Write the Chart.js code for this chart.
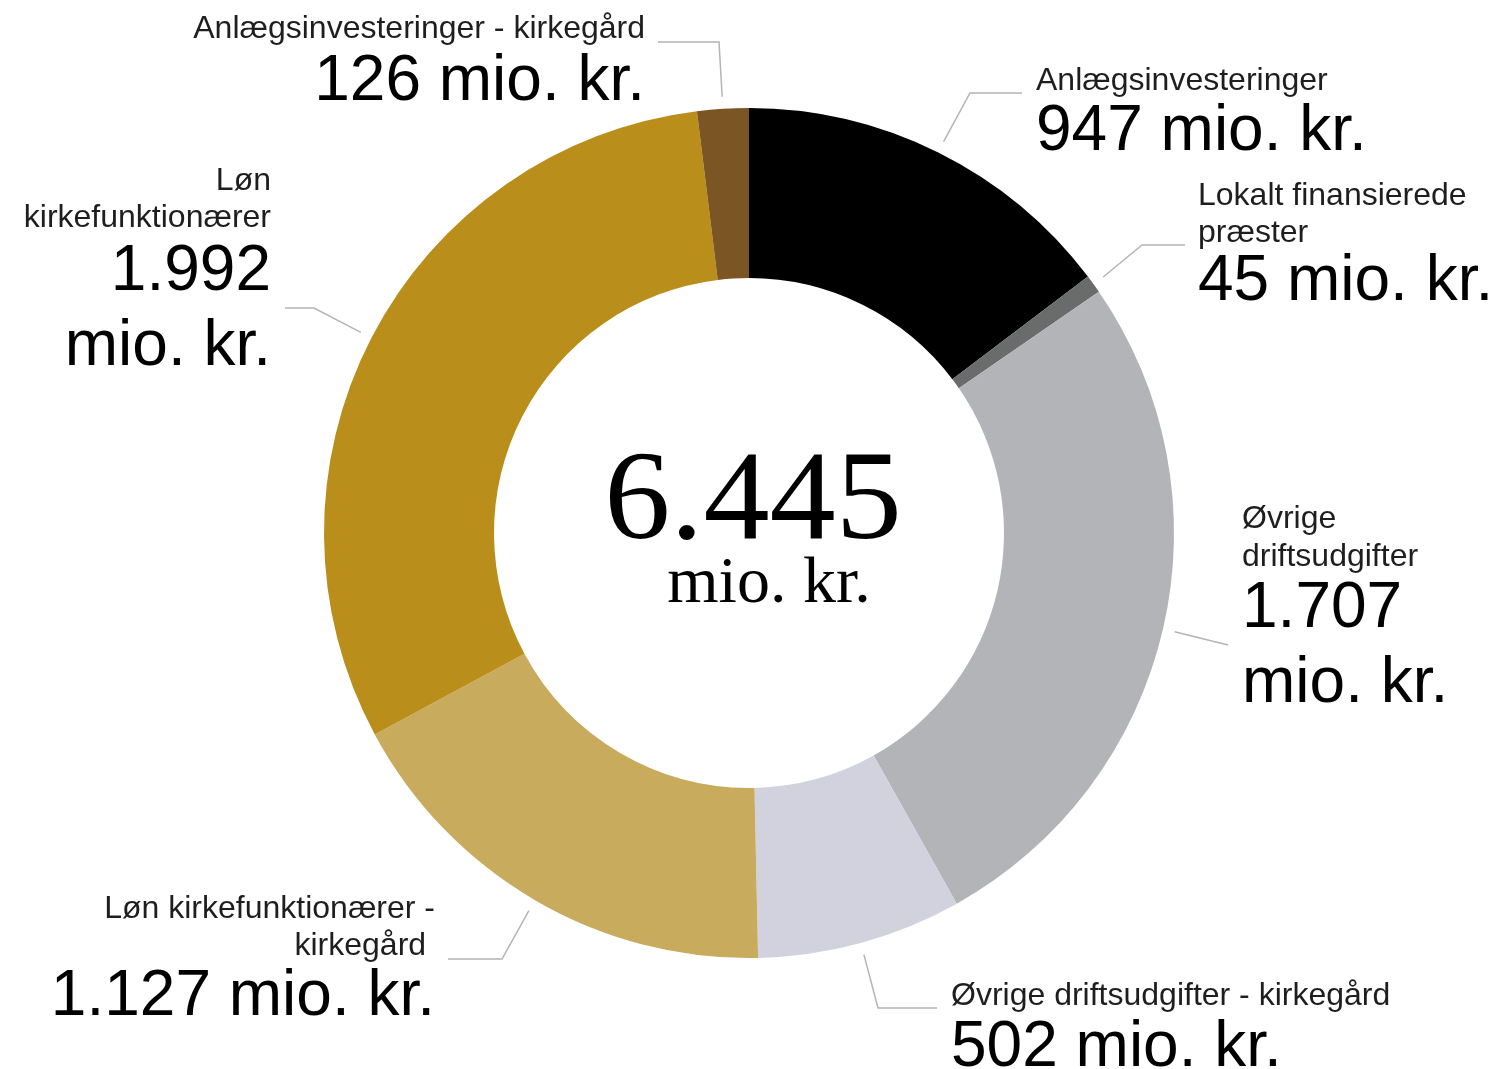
<!DOCTYPE html>
<html>
<head>
<meta charset="utf-8">
<script src="https://cdn.jsdelivr.net/npm/chart.js@4"></script>
<style>
  html, body { margin: 0; padding: 0; background: #fff; }
  canvas { display: block; }
</style>
</head>
<body>
<canvas id="chart" width="1500" height="1069"></canvas>
<script>
const categories = [
  "Anlægsinvesteringer",
  "Lokalt finansierede præster",
  "Øvrige driftsudgifter",
  "Øvrige driftsudgifter - kirkegård",
  "Løn kirkefunktionærer - kirkegård",
  "Løn kirkefunktionærer",
  "Anlægsinvesteringer - kirkegård"
];
const values = [947, 45, 1707, 502, 1127, 1992, 126];
const valueLabels = ["947", "45", "1.707", "502", "1.127", "1.992", "126"];
const totalLabel = "6.445";
const colors = ["#000000", "#6a6b6b", "#b3b4b8", "#d1d2de", "#c9ab5d", "#b98e1a", "#7b5523"];

const SANS = '"Liberation Sans", Arial, sans-serif';
const SERIF = '"Liberation Serif", "Times New Roman", serif';

// where each label sits, and how its leader line bends
const labelLayout = [
  { align: "left", x: 1036, lines: [["Anlægsinvesteringer", 90]], big: [["947 mio. kr.", 150]], elbow: [970, 93], end: [1022, 93] },
  { align: "left", x: 1198, lines: [["Lokalt finansierede", 205], ["præster", 242]], big: [["45 mio. kr.", 300]], elbow: [1142, 245], end: [1185, 245] },
  { align: "left", x: 1242, lines: [["Øvrige", 528], ["driftsudgifter", 566]], big: [["1.707", 627], ["mio. kr.", 702]], elbow: [1228, 645], end: [1228, 645] },
  { align: "left", x: 951, lines: [["Øvrige driftsudgifter - kirkegård", 1005]], big: [["502 mio. kr.", 1066]], elbow: [878, 1008], end: [937, 1008] },
  { align: "right", x: 435, lines: [["Løn kirkefunktionærer -", 918], ["kirkegård ", 955]], big: [["1.127 mio. kr.", 1015]], elbow: [502, 959], end: [448, 959] },
  { align: "right", x: 271, lines: [["Løn", 190], ["kirkefunktionærer", 227]], big: [["1.992", 290], ["mio. kr.", 365]], elbow: [314, 308], end: [285, 308] },
  { align: "right", x: 645, lines: [["Anlægsinvesteringer - kirkegård", 38]], big: [["126 mio. kr.", 100]], elbow: [719, 42], end: [658, 42] }
];

const labelsPlugin = {
  id: "outerLabels",
  afterDraw(chart) {
    const ctx = chart.ctx;
    const arcs = chart.getDatasetMeta(0).data;
    ctx.save();
    arcs.forEach((arc, i) => {
      const L = labelLayout[i];
      const mid = (arc.startAngle + arc.endAngle) / 2;
      const r = arc.outerRadius + 12;
      const sx = arc.x + Math.cos(mid) * r;
      const sy = arc.y + Math.sin(mid) * r;
      ctx.strokeStyle = "#b4b4b8";
      ctx.lineWidth = 1.5;
      ctx.beginPath();
      ctx.moveTo(sx, sy);
      ctx.lineTo(L.elbow[0], L.elbow[1]);
      ctx.lineTo(L.end[0], L.end[1]);
      ctx.stroke();

      ctx.textAlign = L.align;
      ctx.textBaseline = "alphabetic";
      ctx.fillStyle = "#1e1e1e";
      ctx.font = "32px " + SANS;
      L.lines.forEach(([t, y]) => ctx.fillText(t, L.x, y));
      ctx.fillStyle = "#000";
      ctx.font = "64px " + SANS;
      L.big.forEach(([t, y]) => ctx.fillText(t, L.x, y));
    });

    // total in the middle (serif, a touch wider than Times)
    const a = arcs[0];
    ctx.textAlign = "center";
    ctx.fillStyle = "#000";
    ctx.save();
    ctx.translate(a.x + 4, 538);
    ctx.scale(1.05, 1);
    ctx.font = "126px " + SERIF;
    ctx.fillText(totalLabel, 0, 0);
    ctx.restore();
    ctx.font = "66px " + SERIF;
    ctx.fillText("mio. kr.", a.x + 20, 602);
    ctx.restore();
  }
};

new Chart(document.getElementById("chart"), {
  type: "doughnut",
  data: {
    labels: categories,
    datasets: [{
      data: values,
      backgroundColor: colors,
      borderWidth: 0
    }]
  },
  options: {
    responsive: false,
    animation: false,
    cutout: "60%",
    layout: { padding: { left: 324, right: 326, top: 108, bottom: 111 } },
    plugins: {
      legend: { display: false },
      tooltip: { enabled: false }
    }
  },
  plugins: [labelsPlugin]
});
</script>
</body>
</html>
